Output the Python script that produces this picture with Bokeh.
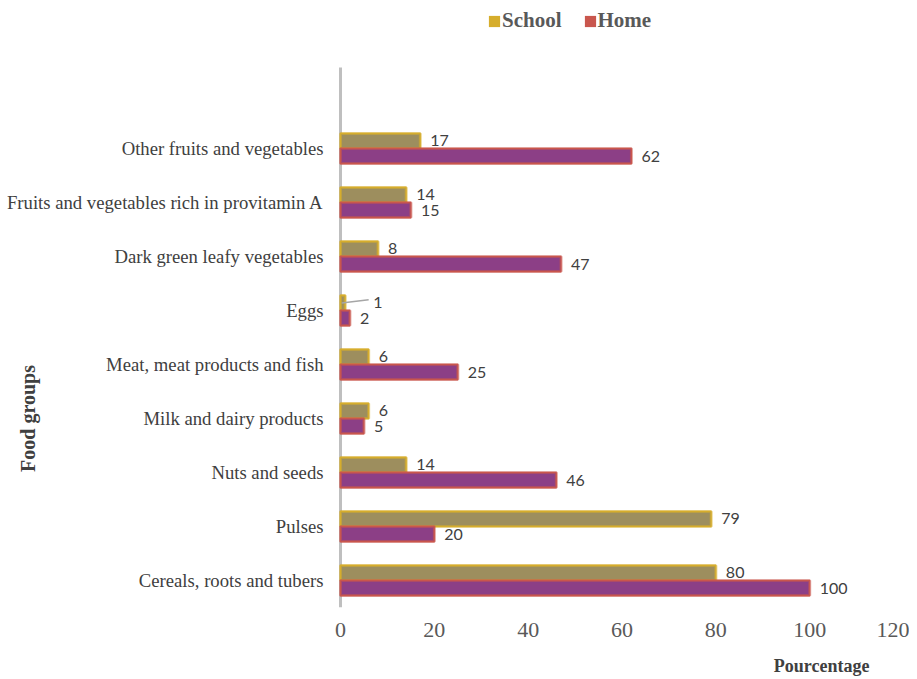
import math
from bokeh.plotting import figure
from bokeh.models import ColumnDataSource, FixedTicker, Legend, LegendItem, Range1d, Title
from bokeh.transform import dodge
from bokeh.core.properties import value
from bokeh.embed import file_html
from bokeh.resources import INLINE

# ---- data (bottom to top) ----
categories = [
    "Cereals, roots and tubers",
    "Pulses",
    "Nuts and seeds",
    "Milk and dairy products",
    "Meat, meat products and fish",
    "Eggs",
    "Dark green leafy vegetables",
    "Fruits and vegetables rich in provitamin A",
    "Other fruits and vegetables",
]
school = [80, 79, 14, 6, 6, 1, 8, 14, 17]
home = [100, 20, 46, 5, 25, 2, 47, 15, 62]
x_ticks = [0, 20, 40, 60, 80, 100, 120]
series_names = ["School", "Home"]
y_title = "Food groups"
x_title = "Pourcentage"

# ---- styles ----
SCHOOL_EDGE = "#d6ad2c"
SCHOOL_FILL = "#9d8e5e"
HOME_EDGE = "#c9564d"
HOME_FILL = "#8c3f86"
SERIF = "Liberation Serif"

PX_PER_UNIT = 4.692          # horizontal scale of the reference
ZERO_PX = 340                # where value 0 sits (from left edge)
FRAME_W = 905
FRAME_H = 607
ROW_PX = 54

pos = [i + 0.5 for i in range(len(categories))]
BAR_H = 0.28
HALF = BAR_H / 2

def label_offsets(vals):
    return [28 if v < 2 else 10 for v in vals]

src_s = ColumnDataSource(dict(y=pos, v=school, lbl=[str(v) for v in school], off=label_offsets(school)))
src_h = ColumnDataSource(dict(y=pos, v=home, lbl=[str(v) for v in home], off=[10] * len(home)))
src_c = ColumnDataSource(dict(y=pos, name=categories))

x0 = -ZERO_PX / PX_PER_UNIT
x1 = (FRAME_W - ZERO_PX) / PX_PER_UNIT
p = figure(
    frame_width=FRAME_W, frame_height=FRAME_H,
    min_border_left=0, min_border_right=4, min_border_top=0, min_border_bottom=72,
    x_range=Range1d(x0, x1), y_range=Range1d(0, FRAME_H / ROW_PX),
    output_backend="svg", toolbar_location=None,
    background_fill_color="white", border_fill_color="white",
)
p.outline_line_color = None
p.xgrid.visible = False
p.ygrid.visible = False
p.yaxis.visible = False

# vertical axis line at 0
p.segment(x0=[0], y0=[0], x1=[0], y1=[len(categories) + 1], line_color="#bfbfbf", line_width=3)

# bars (soft edge: a wide translucent outline under a crisp one)
for src, dy, fill, edge in ((src_s, HALF, SCHOOL_FILL, SCHOOL_EDGE), (src_h, -HALF, HOME_FILL, HOME_EDGE)):
    p.hbar(y=dodge("y", dy), left=0, right="v", height=BAR_H, source=src,
           fill_color=fill, line_color=edge, line_width=3, line_alpha=0.55)
    p.hbar(y=dodge("y", dy), left=0, right="v", height=BAR_H, source=src,
           fill_alpha=0, line_color=edge, line_width=1.2)

# data labels
common = dict(text_font=value("Lato"), text_font_size="16px", text_color="#404040",
              text_baseline="middle", text_align="left")
p.text(x="v", y=dodge("y", HALF), text="lbl", x_offset="off", source=src_s, **common)
p.text(x="v", y=dodge("y", -HALF), text="lbl", x_offset="off", source=src_h, **common)

# leader line for the tiny Eggs value
ei = categories.index("Eggs")
lead = ColumnDataSource(dict(x0=[school[ei] * 0.25], y0=[pos[ei] + HALF],
                             x1=[school[ei] + 5], y1=[pos[ei] + HALF + 0.06]))
p.segment(x0="x0", y0="y0", x1="x1", y1="y1", source=lead, line_color="#a6a6a6", line_width=1.5)

# category labels (y axis)
p.text(x=0, y="y", text="name", source=src_c, x_offset=-17,
       text_font=value(SERIF), text_font_size="18.7px", text_color="#404040",
       text_align="right", text_baseline="middle")

# y title
p.text(x=[(27 - ZERO_PX) / PX_PER_UNIT], y=[pos[categories.index("Milk and dairy products")]],
       text=[y_title], angle=math.pi / 2,
       text_font=value(SERIF), text_font_style="bold", text_font_size="20px",
       text_color="#404040", text_align="center", text_baseline="middle")

# x axis
p.xaxis.ticker = FixedTicker(ticks=x_ticks)
p.xaxis.axis_line_color = None
p.xaxis.major_tick_line_color = None
p.xaxis.major_tick_out = 0
p.xaxis.major_tick_in = 0
p.xaxis.minor_tick_line_color = None
p.xaxis.major_label_standoff = 15
p.xaxis.major_label_text_font = SERIF
p.xaxis.major_label_text_font_size = "22px"
p.xaxis.major_label_text_color = "#595959"

p.add_layout(Title(text=x_title, align="right", offset=36, text_font=SERIF,
                   text_font_style="bold", text_font_size="18px", text_color="#404040",
                   standoff=28), "below")

# legend (zero-size swatch renderers)
r_s = p.hbar(y=[0], left=[0], right=[0], height=0, fill_color=SCHOOL_EDGE, line_color=None)
r_h = p.hbar(y=[0], left=[0], right=[0], height=0, fill_color=HOME_EDGE, line_color=None)
legend = Legend(
    items=[LegendItem(label=series_names[0], renderers=[r_s]),
           LegendItem(label=series_names[1], renderers=[r_h])],
    orientation="horizontal", location=(487, FRAME_H - 33),
    glyph_width=14, glyph_height=14, label_standoff=1, spacing=21, label_height=22,
    padding=0, margin=0, border_line_color=None, background_fill_alpha=0,
    label_text_font=SERIF, label_text_font_style="bold", label_text_font_size="21px",
    label_text_color="#595959",
)
p.add_layout(legend)

open("out.html", "w").write(file_html(p, INLINE))
